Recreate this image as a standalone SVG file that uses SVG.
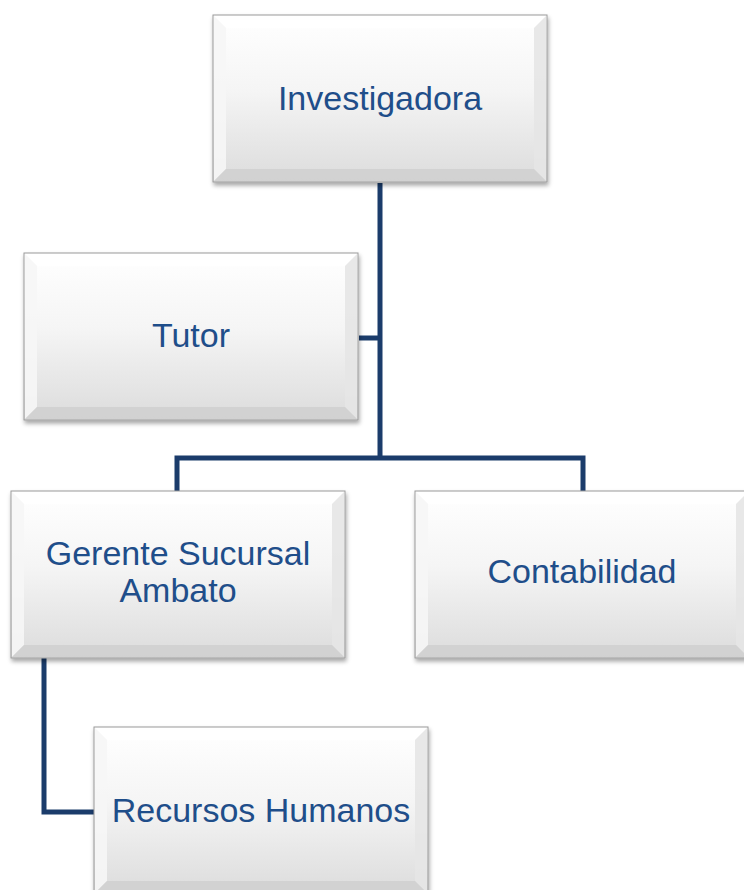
<svg xmlns="http://www.w3.org/2000/svg" width="744" height="890" viewBox="0 0 744 890">
  <style>
    .face { fill: url(#faceGrad); stroke: #9a9a9a; stroke-width: 1; }
    .bev-top { fill: #ffffff; opacity: 0.9; }
    .bev-left { fill: #f6f6f6; opacity: 0.9; }
    .bev-right { fill: #e6e6e6; opacity: 0.9; }
    .bev-bot { fill: #cdcdcd; opacity: 0.75; }
    .label { font-family: "Liberation Sans", Arial, sans-serif; font-size: 34px; fill: #1f4e8a; text-anchor: middle; }
    .link { fill: none; stroke: #1b3c6b; stroke-width: 5; stroke-linejoin: miter; }
  </style>
  <defs>
    <linearGradient id="faceGrad" x1="0" y1="0" x2="0" y2="1">
      <stop offset="0" stop-color="#ffffff"/>
      <stop offset="0.45" stop-color="#f5f5f5"/>
      <stop offset="1" stop-color="#dcdcdc"/>
    </linearGradient>
    <filter id="shadow" x="-5%" y="-5%" width="112%" height="115%">
      <feDropShadow dx="1" dy="3" stdDeviation="2" flood-color="#000" flood-opacity="0.35"/>
    </filter>
    <!-- bevelled box, 334 x 167 -->
    <g id="bevelBox">
      <rect class="face" x="0" y="0" width="334" height="167" filter="url(#shadow)"/>
      <polygon class="bev-top" points="1,1 333,1 321,13 13,13"/>
      <polygon class="bev-left" points="1,1 13,13 13,154 1,166"/>
      <polygon class="bev-right" points="333,1 333,166 321,154 321,13"/>
      <polygon class="bev-bot" points="1,166 13,154 321,154 333,166"/>
    </g>
  </defs>

  <g id="connectors">
    <polyline class="link" points="380,183 380,458"/>
    <polyline class="link" points="359,338 380,338"/>
    <polyline class="link" points="177,491 177,458 583,458 583,491"/>
    <polyline class="link" points="44,657 44,812 94,812"/>
  </g>

  <g id="node-investigadora">
    <use href="#bevelBox" x="213" y="15"/>
    <text class="label" x="380" y="110">Investigadora</text>
  </g>

  <g id="node-tutor">
    <use href="#bevelBox" x="24" y="253"/>
    <text class="label" x="191" y="347">Tutor</text>
  </g>

  <g id="node-gerente">
    <use href="#bevelBox" x="11" y="491"/>
    <text class="label" x="178" y="565">Gerente Sucursal</text>
    <text class="label" x="178" y="602">Ambato</text>
  </g>

  <g id="node-contabilidad">
    <use href="#bevelBox" x="415" y="491"/>
    <text class="label" x="582" y="583">Contabilidad</text>
  </g>

  <g id="node-rrhh">
    <use href="#bevelBox" x="94" y="727"/>
    <text class="label" x="261" y="822">Recursos Humanos</text>
  </g>
</svg>
